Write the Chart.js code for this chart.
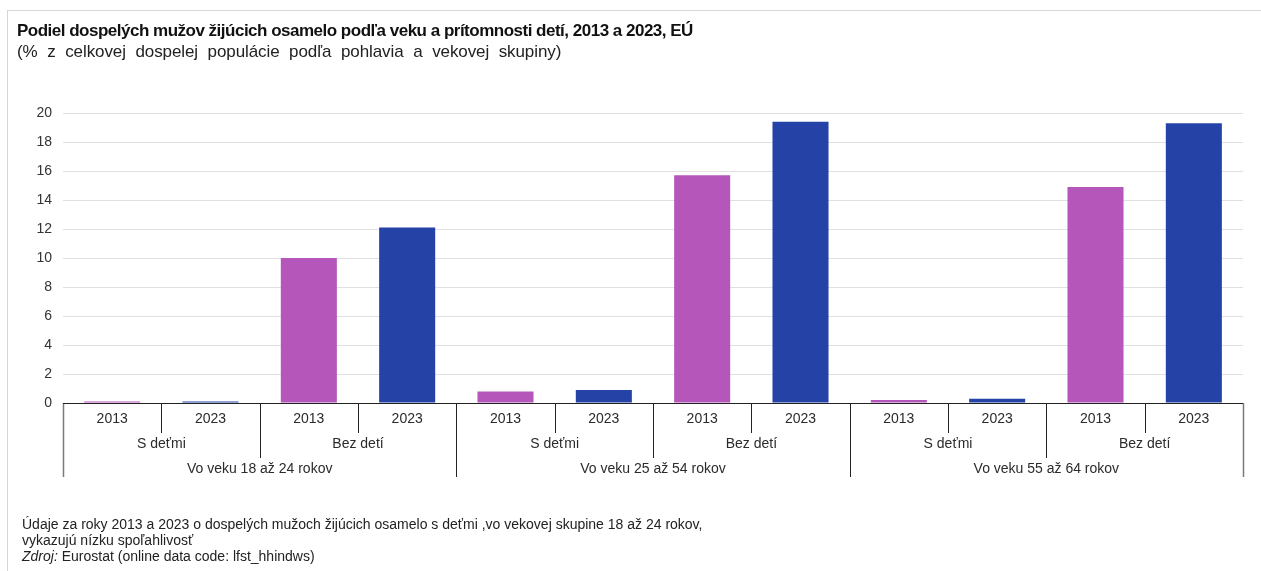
<!DOCTYPE html>
<html lang="sk">
<head>
    <meta charset="UTF-8">
    <title>Podiel dospelých mužov žijúcich osamelo</title>
    <script src="https://cdn.jsdelivr.net/npm/chart.js"></script>
    <style>
        body {
            margin: 0;
            width: 1261px;
            height: 571px;
            background: #fff;
            font-family: "Liberation Sans", Arial, sans-serif;
            position: relative;
            overflow: hidden;
        }
        .frame {
            position: absolute;
            left: 7px;
            top: 10px;
            width: 1260px;
            height: 570px;
            border-left: 1px solid #d6d6d6;
            border-top: 1px solid #d6d6d6;
        }
        .title {
            position: absolute;
            left: 17px;
            top: 21px;
            font-size: 17px;
            font-weight: bold;
            color: #111;
            white-space: nowrap;
            letter-spacing: -0.5px;
        }
        .subtitle {
            position: absolute;
            left: 17px;
            top: 42px;
            font-size: 17px;
            color: #222;
            white-space: nowrap;
            word-spacing: 5px;
            letter-spacing: -0.1px;
        }
        .note {
            position: absolute;
            left: 22px;
            top: 516px;
            font-size: 14px;
            line-height: 16px;
            color: #222;
        }
        #chart {
            position: absolute;
            left: 0;
            top: 0;
        }
    </style>
</head>
<body>
    <div class="frame"></div>
    <canvas id="chart" width="1261" height="571"></canvas>
    <div class="title">Podiel dospelých mužov žijúcich osamelo podľa veku a prítomnosti detí, 2013 a 2023, EÚ</div>
    <div class="subtitle">(% z celkovej dospelej populácie podľa pohlavia a vekovej skupiny)</div>
    <div class="note">
        Údaje za roky 2013 a 2023 o dospelých mužoch žijúcich osamelo s deťmi ,vo vekovej skupine 18 až 24 rokov,<br>
        vykazujú nízku spoľahlivosť<br>
        <i>Zdroj:</i> Eurostat (online data code: lfst_hhindws)
    </div>

    <script>
        // one bar per category, three label levels under the axis
        const years = ['2013', '2023', '2013', '2023', '2013', '2023', '2013', '2023', '2013', '2023', '2013', '2023'];
        const childGroups = ['S deťmi', 'Bez detí', 'S deťmi', 'Bez detí', 'S deťmi', 'Bez detí'];
        const ageGroups = ['Vo veku 18 až 24 rokov', 'Vo veku 25 až 54 rokov', 'Vo veku 55 až 64 rokov'];
        const values = [0.1, 0.1, 10.0, 12.1, 0.8, 0.9, 15.7, 19.4, 0.2, 0.3, 14.9, 19.3];
        const yTicks = [0, 2, 4, 6, 8, 10, 12, 14, 16, 18, 20];

        const yearColors = { '2013': '#b556bb', '2023': '#2543a6' };

        const multiAxis = {
            id: 'multiAxis',
            afterDraw(chart) {
                const ctx = chart.ctx;
                const xs = chart.scales.x;
                const area = chart.chartArea;
                const n = years.length;
                const step = (area.right - area.left) / n;
                const edge = i => i < n ? xs.getPixelForValue(i) - step / 2 : xs.getPixelForValue(n - 1) + step / 2;
                const y0 = area.bottom;

                ctx.save();
                // separators
                for (let i = 0; i <= n; i++) {
                    let len = 30;
                    if (i % 2 === 0) len = 55;
                    if (i % 4 === 0) len = 74;
                    const x = Math.round(edge(i)) + 0.5;
                    ctx.strokeStyle = (i === 0 || i === n) ? '#7a7a7a' : '#222';
                    ctx.lineWidth = (i === 0 || i === n) ? 1.5 : 1;
                    ctx.beginPath();
                    ctx.moveTo(x, y0);
                    ctx.lineTo(x, y0 + len);
                    ctx.stroke();
                }
                // axis line
                ctx.strokeStyle = '#222';
                ctx.lineWidth = 1;
                ctx.beginPath();
                ctx.moveTo(edge(0), Math.round(y0) + 0.5);
                ctx.lineTo(edge(n), Math.round(y0) + 0.5);
                ctx.stroke();

                ctx.fillStyle = '#2b2b2b';
                ctx.font = '14px "Liberation Sans", Arial, sans-serif';
                ctx.textAlign = 'center';
                ctx.textBaseline = 'middle';
                years.forEach((t, i) => ctx.fillText(t, xs.getPixelForValue(i), y0 + 16));
                childGroups.forEach((t, j) => ctx.fillText(t, (edge(j * 2) + edge(j * 2 + 2)) / 2, y0 + 41));
                ageGroups.forEach((t, k) => ctx.fillText(t, (edge(k * 4) + edge(k * 4 + 4)) / 2, y0 + 66));
                ctx.restore();
            }
        };

        new Chart(document.getElementById('chart').getContext('2d'), {
            type: 'bar',
            data: {
                labels: years.map((y, i) => i),
                datasets: [{
                    data: values,
                    backgroundColor: years.map(y => yearColors[y]),
                    borderWidth: 0,
                    categoryPercentage: 0.57,
                    barPercentage: 1.0
                }]
            },
            options: {
                responsive: false,
                animation: false,
                devicePixelRatio: 1,
                layout: { padding: { left: 0, top: 113, right: 18, bottom: 168 } },
                plugins: {
                    legend: { display: false },
                    tooltip: { enabled: false }
                },
                scales: {
                    x: {
                        grid: { display: false },
                        border: { display: false },
                        ticks: { display: false },
                        afterFit: s => { s.height = 0; }
                    },
                    y: {
                        min: 0,
                        max: 20,
                        afterBuildTicks: s => { s.ticks = yTicks.map(v => ({ value: v })); },
                        afterFit: s => { s.width = 63; },
                        grid: { color: '#e0e0e0', drawTicks: false },
                        border: { display: false },
                        ticks: {
                            padding: 11,
                            color: '#333',
                            font: { family: '"Liberation Sans", Arial, sans-serif', size: 14 }
                        }
                    }
                }
            },
            plugins: [multiAxis]
        });
    </script>
</body>
</html>
